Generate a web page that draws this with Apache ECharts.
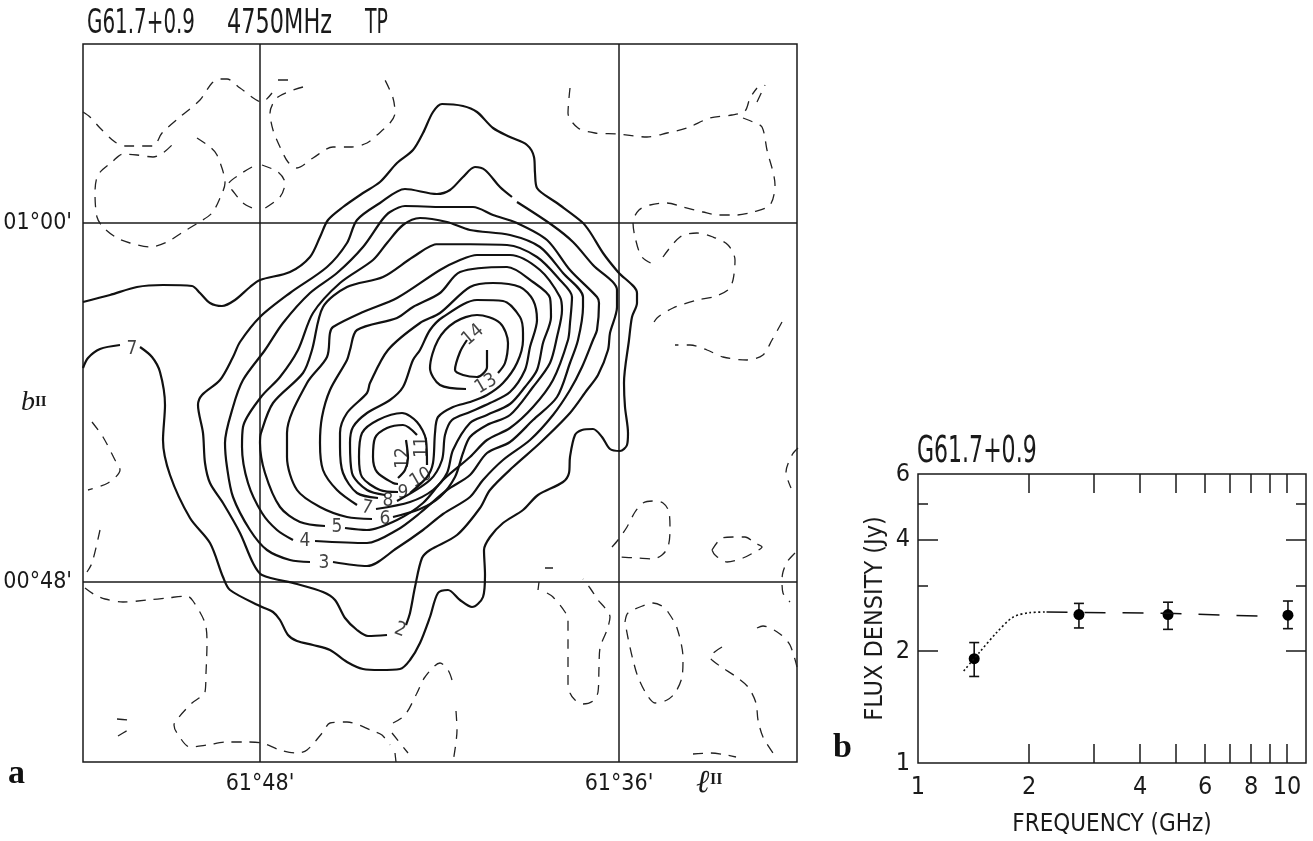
<!DOCTYPE html>
<html><head><meta charset="utf-8">
<style>html,body{margin:0;padding:0;background:#fff}#c{width:1313px;height:841px}</style>
<script src="https://cdn.jsdelivr.net/npm/echarts@6/dist/echarts.min.js"></script>
</head><body><div id="c"></div>
<script>
// Map values: offsets in units of about 2 arcsec from (61deg48', 00deg48'); l decreases to the right. null = pen lift.
const contour1 = [[-177,280],[-150,287],[-123,295],[-97,297],[-68,296],[-60,289],[-50,279],[-38,276],[-25,282],[-10,295],[0,302],[30,310],[50,325],[60,345],[68,362],[83,375],[103,389],[120,400],[137,419],[153,432],[163,449],[173,470],[182,478],[203,476],[217,470],[233,454],[250,445],[267,437],[274,425],[275,409],[277,394],[297,379],[322,360],[330,350],[343,329],[358,310],[377,289],[377,279],[372,265],[369,242],[364,199],[365,175],[368,149],[367,137],[360,131],[350,133],[342,145],[333,153],[322,152],[315,147],[310,125],[309,109],[303,100],[278,87],[263,72],[243,59],[230,45],[224,32],[225,7],[223,-15],[212,-25],[200,-18],[188,-8],[178,-11],[170,-35],[160,-61],[150,-78],[140,-87],[120,-88],[103,-87],[87,-80],[70,-68],[53,-63],[37,-59],[28,-53],[20,-38],[13,-30],[2,-25],[-30,-8],[-37,5],[-50,39],[-70,64],[-90,107],[-97,142],[-95,177],[-100,210],[-108,225],[-120,235],null,[-140,237],[-160,233],[-172,224],[-177,214]];
const contour2 = [[146,-43],[150,-31],[155,-5],[162,24],[170,32],[197,47],[220,74],[230,92],[253,115],[280,139],[310,169],[327,192],[338,207],[348,232],[350,249],[357,275],[357,292],[333,317],[313,340],[292,357],[257,380],null,[252,385],[240,395],[225,412],[215,415],[203,405],[190,392],[177,388],[145,393],[120,379],[97,362],[87,339],[67,315],[30,289],[0,265],[-20,240],[-27,225],[-40,202],[-58,187],[-62,177],[-57,149],[-55,119],[-50,99],[-37,79],[-20,49],[-7,19],[2,7],[37,-2],[63,-10],[75,-18],[85,-36],[97,-48],[108,-54],[127,-53]];
const contour3 = [[73,20],[107,16],[137,34],[163,52],[183,68],[210,85],[223,102],[243,122],[270,142],[293,167],[310,192],[322,215],[333,242],[337,252],[339,279],[337,285],[310,312],[287,342],[257,359],[233,367],[213,375],[183,375],[145,376],[130,370],[122,362],[103,335],[77,309],[50,289],[23,259],[5,232],[-17,202],[-27,175],[-35,139],[-33,115],[-27,85],[-10,52],[7,32],[30,22],[50,20]];
const contour4 = [[55,41],[107,39],[137,52],[160,69],[187,92],[210,107],[227,129],[250,140],[273,162],[297,185],[310,219],[318,242],[323,275],[323,285],[303,309],[280,335],[250,347],[210,352],[187,360],[160,364],[143,357],[127,339],[113,322],[80,299],[53,269],[38,232],[20,205],[1,185],[-17,155],[-18,135],[-12,99],[2,69],[17,52],[33,42]];
const contour5 = [[85,54],[107,52],[137,62],[163,79],[183,102],[210,125],[227,142],[250,154],[273,175],[293,202],[308,242],[310,259],[312,285],[300,302],[277,325],[247,337],[178,338],[153,325],[123,305],[87,295],[63,275],[52,232],[43,209],[13,179],[1,149],[0,139],[5,109],[20,75],[40,60],[65,56]];
const contour6 = [[133,65],[160,73],[180,85],[195,105],[203,129],[210,145],[227,157],[250,167],[273,195],[290,219],[297,245],[302,272],[300,285],[280,312],[250,327],[217,327],[200,322],[180,312],[137,284],[103,270],[73,255],[70,249],[67,225],[47,199],[27,149],[27,125],[37,92],[60,75],[87,65],[112,63]];
const contour7 = [[116,73],[150,80],[173,92],[187,109],[193,132],[210,159],[227,167],[250,178],[265,195],[277,212],[283,239],[291,265],[290,284],[273,300],[247,315],[200,310],[180,289],[153,275],[137,264],[97,252],[90,232],[87,222],[70,192],[62,165],[60,139],[63,112],[77,92],[97,77]];
const contour8 = [[137,81],[170,102],[182,122],[185,147],[192,162],[210,170],[230,179],[250,190],[265,212],[270,235],[277,262],[273,282],[260,295],[233,299],[210,295],[180,269],[160,259],[128,232],[110,199],[107,189],[87,169],[80,149],[80,135],[83,109],[97,89],[118,84]];
const contour9 = [[150,89],[167,105],[173,119],[175,149],[178,165],[193,175],[210,180],[227,187],[243,199],[257,219],[263,242],[263,249],[260,265],[243,281],[217,282],[183,265],[170,252],[160,232],[153,222],[143,195],[130,182],[107,169],[93,155],[90,139],[92,109],[107,92],[125,87]];
const contour10S = [[167,117],[166,142],[157,160],[142,169],[118,162],[102,149],[99,125],[102,105],[120,92],[138,90]];
const contour11S = [[157,147],[143,157],[127,154],[115,144],[113,125],[117,110],[133,99],[138,98],null,[146,142],[148,124],[145,112],[138,104]];
const contour13N = [[206,193],[180,197],[170,214],[178,242],[195,260],[217,267],[240,259],[248,239],[245,219],[238,209]];
const contour14N = [[207,242],[200,230],[195,212],[203,207],[217,205],[227,215],[227,232]];
const solidContours = [contour1,contour2,contour3,contour4,contour5,contour6,contour7,contour8,contour9,contour10S,contour11S,contour13N,contour14N];

const negTopLeftA = [[-177,470],[-170,465],[-160,454],[-145,440],[-135,436],[-107,436],[-98,449],[-80,465],[-60,482],[-48,499],[-40,503],[-33,503],[-20,494],[2,480],[12,489],null,[18,502],[28,502]];
const negTopLeftB = [[43,495],[18,485],[10,469],[13,452],[20,435],[28,420],[37,414],[53,424],[73,435],[92,435],[107,439],[117,447],[130,459],[135,469],[133,484],[125,502]];
const negTopLeftC = [[-63,444],[-50,435],[-43,427],[-35,399],[-40,384],[-48,369],[-62,359],[-77,350],[-93,340],[-110,335],[-130,339],[-143,344],[-157,355],[-163,365],[-165,389],[-162,407],[-148,420],[-137,428],[-123,427],[-107,425],[-97,429],[-85,440]];
const negCrossA = [[-8,415],[-18,409],[-32,397],[-28,392],[-17,379],[-8,374]];
const negCrossB = [[2,417],[18,410],[25,399],[20,385],[2,372]];
const negTopRightA = [[310,494],[308,469],[318,454],[335,449],[357,448],[387,445],[407,449],[427,454],[450,464],[472,467],[485,471],[490,484],[497,494],null,[497,480],[505,497]];
const negTopRightB = [[483,464],[493,460],[502,455],[507,432],[515,397],[510,377],[493,370],[477,367],[458,367],[443,370],[423,375],[407,379],[390,377],[379,372],[373,360],[375,345],[382,325],[397,316]];
const negRightA = [[403,325],[420,345],[437,349],[453,345],[468,337],[475,322],[473,302],[468,292],[453,285],[437,282],[413,274],[397,264],[391,254]];
const negRightB = [[522,260],[512,242],[503,227],[487,222],[463,225],[447,232],[430,237],[415,237]];
const negRightC = [[538,134],[532,127],[526,110],[531,94]];
const negLoopA = [[352,35],[358,42],[367,55],[375,70],[383,79],[393,81],[403,79],[409,70],[410,52],[408,35],[402,27],[393,23],[377,24],[358,25]];
const negLoopB = [[452,32],[455,27],[467,20],[483,24],[493,29],[502,35],[495,39],[485,45],[473,45],[462,44],[452,32]];
const negRightD = [[535,29],[527,20],[523,10],[522,2],[523,-11],[530,-20]];
const negTicks = [[278,-8],[279,0],null,[285,14],[293,14]];
const negLoopC = [[287,-11],[293,-15],[305,-30],[308,-38],[308,-65],[308,-101],[310,-111],[315,-118],[323,-122],[333,-119],[338,-110],[339,-85],[340,-66],[347,-48],[350,-35],[345,-26],[338,-18],[330,-6],[323,3]];
const negLoopD = [[365,-40],[368,-31],[385,-23],[393,-21],[402,-24],[408,-30],[417,-46],[423,-76],[422,-95],[415,-111],[407,-118],[395,-121],[387,-113],[378,-95],[373,-78],[368,-56],[365,-40]];
const negLowerRightA = [[462,-65],[450,-75],[460,-84],[475,-94],[488,-105],[496,-121],[498,-138],[503,-155],[513,-171]];
const negLowerRightB = [[497,-46],[503,-44],[520,-52],[530,-63],[537,-85]];
const negLowerRightC = [[433,-172],[450,-171],[467,-173],[476,-175]];
const negLeftA = [[-160,52],[-168,19],[-173,10]];
const negBottomLeft = [[-175,-6],[-165,-13],[-155,-17],[-137,-20],[-112,-18],[-93,-16],[-73,-14],[-67,-19],[-55,-41],[-53,-61],[-54,-91],[-55,-110],[-68,-121],[-81,-135],[-86,-143],[-83,-151],[-70,-165],[-53,-163],[-33,-160],[-13,-160],[2,-161],[20,-168],[37,-171],[47,-168],[63,-150],[70,-141],[87,-140],[113,-149],[122,-153],[130,-163]];
const negBottomA = [[132,-151],[148,-171],null,[135,-171],[136,-180]];
const negBottomB = [[133,-141],[145,-133],[157,-111],[165,-95],[180,-81],[188,-88],[192,-98]];
const negBottomC = [[196,-129],[197,-148],[193,-180]];
const negSmall = [[-143,-137],[-132,-138],null,[-142,-154],[-132,-148]];
const negLeftB = [[-168,160],[-157,145],[-145,122],[-140,112],[-152,99],[-172,92]];
const dashedContours = [negTopLeftA,negTopLeftB,negTopLeftC,negCrossA,negCrossB,negTopRightA,negTopRightB,negRightA,negRightB,negRightC,negLoopA,negLoopB,negRightD,negTicks,negLoopC,negLoopD,negLowerRightA,negLowerRightB,negLowerRightC,negLeftA,negBottomLeft,negBottomA,negBottomB,negBottomC,negSmall,negLeftB];

// [x, y, text, rotation]
const contourLabels = [[-128,233,'7',0],[140,-48,'2',-20],[64,19,'3',0],[45,41,'4',0],[77,55,'5',0],[125,63,'6',0],[107,74,'7',-10],[128,81,'8',0],[143,89,'9',0],[161,104,'10',30],[162,135,'11',90],[143,124,'12',90],[226,198,'13',30],[213,247,'14',40]];

const graticuleL = [0,359];
const graticuleB = [0,359];
const lonLabels = ["61°48'","61°36'"];
const latLabels = ["00°48'","01°00'"];

const freqGHz = [1.42,2.73,4.76,10.06];
const fluxJy = [1.91,2.51,2.51,2.50];
const fluxLow = [1.71,2.31,2.29,2.30];
const fluxHigh = [2.11,2.69,2.71,2.73];
const spectrumDotted = [[1.33,1.77],[1.47,1.99],[1.63,2.24],[1.81,2.47],[2.01,2.54],[2.23,2.55]];
const spectrumDashed = [[2.23,2.55],[4.75,2.53],[9.08,2.48]];
const freqTickLabels = [1,2,4,6,8,10];
const freqTicks = [2,3,4,5,6,7,8,9,10];
const fluxTickLabels = [1,2,4,6];
const fluxLongTicks = [2,4];
const fluxShortTicks = [3,5];

const INK = '#1a1a1a';
const NARROW = '"DejaVu Sans Condensed","DejaVu Sans",sans-serif';
const breakPts = a => a.map(p => p === null ? ['-','-'] : p);

const series = [];
graticuleL.forEach(v => series.push({type:'line',xAxisIndex:0,yAxisIndex:0,data:[[v,-180],[v,538]],showSymbol:false,silent:true,lineStyle:{color:INK,width:1.5}}));
graticuleB.forEach(v => series.push({type:'line',xAxisIndex:0,yAxisIndex:0,data:[[-177,v],[537,v]],showSymbol:false,silent:true,lineStyle:{color:INK,width:1.5}}));
solidContours.forEach(c => series.push({type:'line',xAxisIndex:0,yAxisIndex:0,data:breakPts(c),smooth:0.3,showSymbol:false,silent:true,lineStyle:{color:'#111',width:2.2}}));
dashedContours.forEach(c => series.push({type:'line',xAxisIndex:0,yAxisIndex:0,data:breakPts(c),smooth:0.3,showSymbol:false,silent:true,lineStyle:{color:'#222',width:1.3,type:[10,8]}}));
series.push({type:'scatter',xAxisIndex:0,yAxisIndex:0,symbolSize:0,silent:true,data:contourLabels,
  label:{show:true,position:'inside',fontFamily:NARROW,fontSize:19,color:'#111',
    formatter:p=>p.data[2]},
  labelLayout:p=>({rotate:contourLabels[p.dataIndex][3]})});

series.push({type:'line',xAxisIndex:1,yAxisIndex:1,data:spectrumDotted,smooth:0.3,showSymbol:false,silent:true,lineStyle:{color:'#111',width:1.6,type:[2,2.5]}});
series.push({type:'line',xAxisIndex:1,yAxisIndex:1,data:spectrumDashed,showSymbol:false,silent:true,lineStyle:{color:'#111',width:1.5,type:[21,17]}});
series.push({type:'custom',xAxisIndex:1,yAxisIndex:1,silent:true,
  data:freqGHz.map((f,i)=>[f,fluxLow[i],fluxHigh[i]]),
  renderItem:(params,api)=>{
    const lo=api.coord([api.value(0),api.value(1)]),hi=api.coord([api.value(0),api.value(2)]);
    const st={stroke:'#111',lineWidth:1.6,fill:null};
    return {type:'group',children:[
      {type:'line',shape:{x1:lo[0],y1:lo[1],x2:hi[0],y2:hi[1]},style:st},
      {type:'line',shape:{x1:lo[0]-5,y1:lo[1],x2:lo[0]+5,y2:lo[1]},style:st},
      {type:'line',shape:{x1:hi[0]-5,y1:hi[1],x2:hi[0]+5,y2:hi[1]},style:st}]};
  }});
series.push({type:'scatter',xAxisIndex:1,yAxisIndex:1,silent:true,symbol:'circle',symbolSize:11,itemStyle:{color:'#000',opacity:1},data:freqGHz.map((f,i)=>[f,fluxJy[i]])});

const tickAxis = (extra)=>Object.assign({type:'log',logBase:10,splitLine:{show:false},minorTick:{show:false},minorSplitLine:{show:false},axisLine:{show:false,onZero:false},axisLabel:{show:false}},extra);
const xLog = {min:1,max:11.26,gridIndex:1};
const yLog = {min:1,max:6,gridIndex:1};
const tickStyle = {color:INK,width:1.5};
const tallText = (text,x,y,sx,sy) => ({type:'text',x,y,scaleX:sx,scaleY:sy,style:{text,fill:INK,font:'28px '+NARROW,verticalAlign:'middle',align:'left'}});

const option = {
  animation:false,backgroundColor:'#fff',
  grid:[
    {outerBoundsMode:'none',left:83,top:44,width:714,height:718,show:true,borderColor:INK,borderWidth:1.5,backgroundColor:'transparent'},
    {outerBoundsMode:'none',left:918,top:474,width:388,height:289,show:true,borderColor:INK,borderWidth:1.5,backgroundColor:'transparent'}
  ],
  xAxis:[
    {type:'value',gridIndex:0,min:-177,max:537,splitLine:{show:false},axisTick:{show:false},axisLine:{show:false,onZero:false},
      axisLabel:{customValues:graticuleL,margin:11,fontFamily:NARROW,fontSize:23,color:INK,formatter:v=>lonLabels[graticuleL.indexOf(v)]}},
    tickAxis({...xLog,position:'bottom',axisTick:{show:true,inside:true,length:19,lineStyle:tickStyle,customValues:freqTicks},
      name:'FREQUENCY (GHz)',nameLocation:'middle',nameGap:50,nameTextStyle:{fontFamily:NARROW,fontSize:24,color:INK},
      axisLabel:{show:true,customValues:freqTickLabels,margin:12,fontFamily:NARROW,fontSize:25,color:INK}}),
    tickAxis({...xLog,position:'top',axisTick:{show:true,inside:true,length:19,lineStyle:tickStyle,customValues:freqTicks}})
  ],
  yAxis:[
    {type:'value',gridIndex:0,min:-180,max:538,splitLine:{show:false},axisTick:{show:false},axisLine:{show:false,onZero:false},
      axisLabel:{customValues:graticuleB,margin:11,fontFamily:NARROW,fontSize:23,color:INK,formatter:v=>latLabels[graticuleB.indexOf(v)]}},
    tickAxis({...yLog,position:'left',axisTick:{show:true,inside:true,length:20,lineStyle:tickStyle,customValues:fluxLongTicks},
      name:'FLUX DENSITY (Jy)',nameLocation:'middle',nameGap:30,nameTextStyle:{fontFamily:NARROW,fontSize:25,color:INK},
      axisLabel:{show:true,customValues:fluxTickLabels,margin:8,fontFamily:NARROW,fontSize:25,color:INK}}),
    tickAxis({...yLog,position:'left',axisTick:{show:true,inside:true,length:10,lineStyle:tickStyle,customValues:fluxShortTicks}}),
    tickAxis({...yLog,position:'right',axisTick:{show:true,inside:true,length:20,lineStyle:tickStyle,customValues:fluxLongTicks}}),
    tickAxis({...yLog,position:'right',axisTick:{show:true,inside:true,length:10,lineStyle:tickStyle,customValues:fluxShortTicks}})
  ],
  graphic:[
    tallText('G61.7+0.9',87,24,0.79,1.22),
    tallText('4750MHz',227,24,0.89,1.22),
    tallText('TP',365,24,0.75,1.22),
    tallText('G61.7+0.9',917,452,0.875,1.32),
    {type:'text',left:8,top:757,style:{text:'a',font:'bold 34px "Liberation Serif",serif',fill:'#111'}},
    {type:'text',left:833,top:731,style:{text:'b',font:'bold 34px "Liberation Serif",serif',fill:'#111'}},
    {type:'text',left:696,top:768,style:{text:'ℓ',font:'italic 32px "Liberation Serif",serif',fill:INK}},
    {type:'text',left:710,top:772,style:{text:'II',font:'bold 16px "Liberation Serif",serif',fill:INK}},
    {type:'text',left:21,top:389,style:{text:'b',font:'italic 28px "Liberation Serif",serif',fill:INK}},
    {type:'text',left:35,top:395,style:{text:'II',font:'bold 15px "Liberation Serif",serif',fill:INK}}
  ],
  series
};
const chart = echarts.init(document.getElementById('c'),null,{renderer:'canvas'});
chart.setOption(option);
</script></body></html>
